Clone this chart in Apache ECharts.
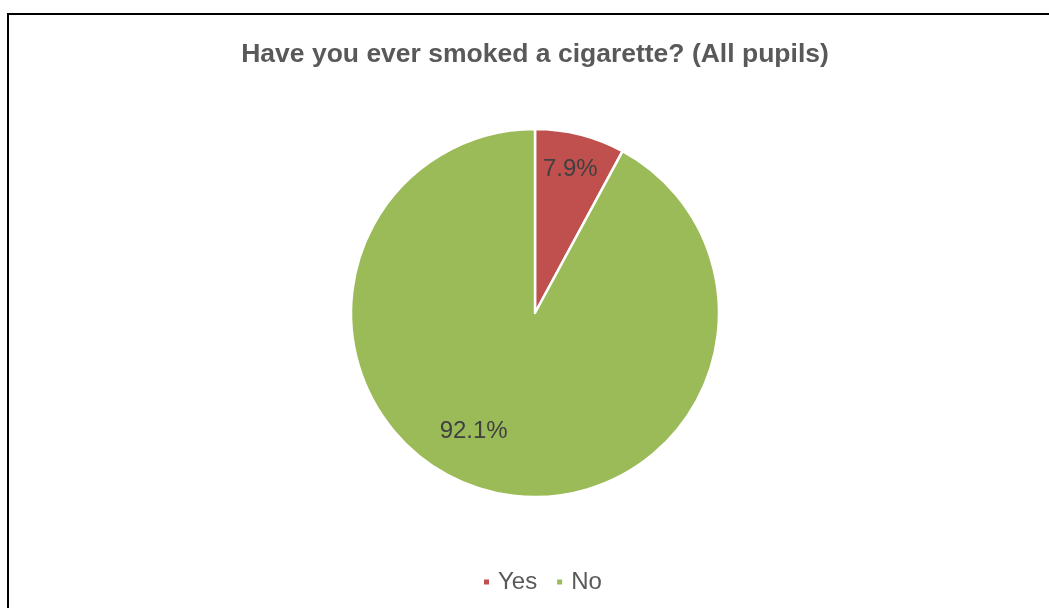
<!DOCTYPE html>
<html>
<head>
<meta charset="utf-8">
<script src="https://cdn.jsdelivr.net/npm/echarts@6/dist/echarts.min.js"></script>
<style>
html,body{margin:0;padding:0;background:#fff;}
#chart{width:1049px;height:608px;}
</style>
</head>
<body>
<div id="chart"></div>
<script>
const categories = ['Yes', 'No'];
const values = [7.9, 92.1];
const colors = ['#C0504D', '#9BBB59'];
const labelOffsets = [[12, -52], [-38, 26]];

const chart = echarts.init(document.getElementById('chart'), null, {renderer: 'canvas'});
chart.setOption({
  animation: false,
  backgroundColor: '#ffffff',
  title: {
    text: 'Have you ever smoked a cigarette? (All pupils)',
    left: 530, textAlign: 'center',
    top: 36,
    textStyle: {fontFamily: 'Liberation Sans, Arial', fontSize: 26.5, fontWeight: 'bold', color: '#595959'}
  },
  graphic: [{
    type: 'rect',
    shape: {x: 8, y: 14, width: 1100, height: 700},
    style: {fill: 'none', stroke: '#000', lineWidth: 2},
    silent: true
  }],
  legend: {
    data: categories,
    left: 477,
    top: 565,
    itemWidth: 7, itemHeight: 7, itemGap: 18,
    icon: 'rect',
    textStyle: {fontFamily: 'Liberation Sans, Arial', fontSize: 24, color: '#595959', padding: [0, 0, 0, 3]}
  },
  series: [{
    type: 'pie',
    center: [535, 313],
    radius: 184,
    startAngle: 90,
    clockwise: true,
    avoidLabelOverlap: false,
    itemStyle: {borderColor: '#fff', borderWidth: 2.5},
    label: {
      show: true, position: 'inside',
      formatter: p => p.value.toFixed(1) + '%',
      fontFamily: 'Liberation Sans, Arial', fontSize: 24, color: '#404040'
    },
    labelLine: {show: false},
    emphasis: {disabled: true},
    data: categories.map((c, i) => ({
      name: c, value: values[i],
      itemStyle: {color: colors[i]},
      label: {offset: labelOffsets[i]}
    }))
  }]
});
</script>
</body>
</html>
